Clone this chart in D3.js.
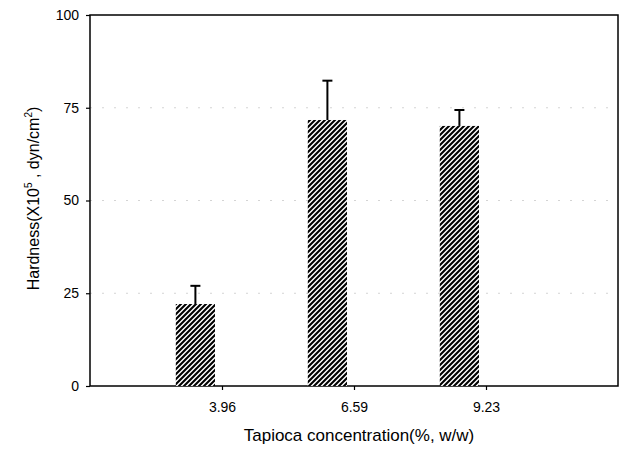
<!DOCTYPE html>
<html>
<head>
<meta charset="utf-8">
<script src="https://cdn.jsdelivr.net/npm/d3@7"></script>
<style>
  body { margin: 0; background: #fff; }
  text { font-family: 'Liberation Sans', Arial, sans-serif; fill: #000; }
</style>
</head>
<body>
<svg id="chart" width="624" height="456"></svg>
<script>
// data
var concentrations = ['3.96', '6.59', '9.23'];
var hardness = [22.1, 71.7, 70.1];
var hardnessErr = [4.9, 10.6, 4.3];
var yTicks = [0, 25, 50, 75, 100];
var gridLevels = [25, 50, 75];

var margin = { left: 90, top: 15, right: 6, bottom: 70 };
var W = 624, H = 456;
var FONT = "'Liberation Sans', Arial, sans-serif";

var svg = d3.select('#chart');

// x is a linear slot axis: 0..4, categories sit on 1,2,3
var x = d3.scaleLinear().domain([0, concentrations.length + 1]).range([margin.left, W - margin.right]);
var y = d3.scaleLinear().domain([0, 100]).range([H - margin.bottom, margin.top]);

// "/" hatch pattern
var defs = svg.append('defs');
var pat = defs.append('pattern')
  .attr('id', 'hatch')
  .attr('patternUnits', 'userSpaceOnUse')
  .attr('width', 5)
  .attr('height', 5);
pat.append('rect').attr('width', 5).attr('height', 5).attr('fill', '#fff');
pat.append('path')
  .attr('d', 'M-1,6 L6,-1 M-3,3 L3,-3 M2,8 L8,2')
  .attr('stroke', '#000')
  .attr('stroke-width', 2.1);

// faint grid bits
svg.append('g')
  .selectAll('line')
  .data(gridLevels)
  .enter()
  .append('line')
  .attr('x1', x(0)).attr('x2', x(4))
  .attr('y1', (d) => y(d)).attr('y2', (d) => y(d))
  .attr('stroke', '#d4d4d4')
  .attr('stroke-width', 1)
  .attr('stroke-dasharray', '2,10');

// frame
svg.append('rect')
  .attr('x', x(0)).attr('y', y(100))
  .attr('width', x(4) - x(0)).attr('height', y(0) - y(100))
  .attr('fill', 'none')
  .attr('stroke', '#000')
  .attr('stroke-width', 1.5);

// axes
var yAxis = d3.axisLeft(y).tickValues(yTicks).tickSize(4).tickPadding(7).tickFormat(d3.format('d'));
var gy = svg.append('g').attr('transform', 'translate(' + x(0) + ',0)').call(yAxis);
gy.select('.domain').remove();
gy.selectAll('text').attr('font-size', 14).attr('font-family', FONT).attr('fill', '#000');
gy.selectAll('line').attr('stroke-width', 1.2);

var xAxis = d3.axisBottom(x).tickValues([1, 2, 3]).tickSize(4).tickPadding(12)
  .tickFormat((d) => concentrations[d - 1]);
var gx = svg.append('g').attr('transform', 'translate(0,' + y(0) + ')').call(xAxis);
gx.select('.domain').remove();
gx.selectAll('text').attr('font-size', 14).attr('font-family', FONT).attr('fill', '#000');
gx.selectAll('line').attr('stroke-width', 1.2);

// bars sit to the left of their tick
var barL = 0.35, barR = 0.053;
svg.append('g')
  .selectAll('rect')
  .data(hardness)
  .enter()
  .append('rect')
  .attr('x', (d, i) => x(i + 1 - barL))
  .attr('y', (d) => y(d))
  .attr('width', (d, i) => x(i + 1 - barR) - x(i + 1 - barL))
  .attr('height', (d) => y(0) - y(d))
  .attr('fill', 'url(#hatch)');

// upper error bars
var eb = svg.append('g').attr('stroke', '#000').attr('stroke-width', 2);
hardness.forEach(function (v, i) {
  var cx = (x(i + 1 - barL) + x(i + 1 - barR)) / 2;
  eb.append('line').attr('x1', cx).attr('x2', cx).attr('y1', y(v)).attr('y2', y(v + hardnessErr[i]));
  eb.append('line').attr('x1', cx - 5).attr('x2', cx + 5)
    .attr('y1', y(v + hardnessErr[i])).attr('y2', y(v + hardnessErr[i]));
});

// titles
svg.append('text')
  .attr('x', 359)
  .attr('y', 441)
  .attr('text-anchor', 'middle')
  .attr('font-size', 17)
  .text('Tapioca concentration(%, w/w)');

var yl = svg.append('text')
  .attr('transform', 'translate(39,' + ((y(0) + y(100)) / 2 - 2) + ') rotate(-90)')
  .attr('text-anchor', 'middle')
  .attr('font-size', 16);
yl.append('tspan').text('Hardness(X10');
yl.append('tspan').attr('dy', -7).attr('font-size', 10).text('5');
yl.append('tspan').attr('dy', 7).text(' , dyn/cm');
yl.append('tspan').attr('dy', -7).attr('font-size', 10).text('2');
yl.append('tspan').attr('dy', 7).text(')');
</script>
</body>
</html>
